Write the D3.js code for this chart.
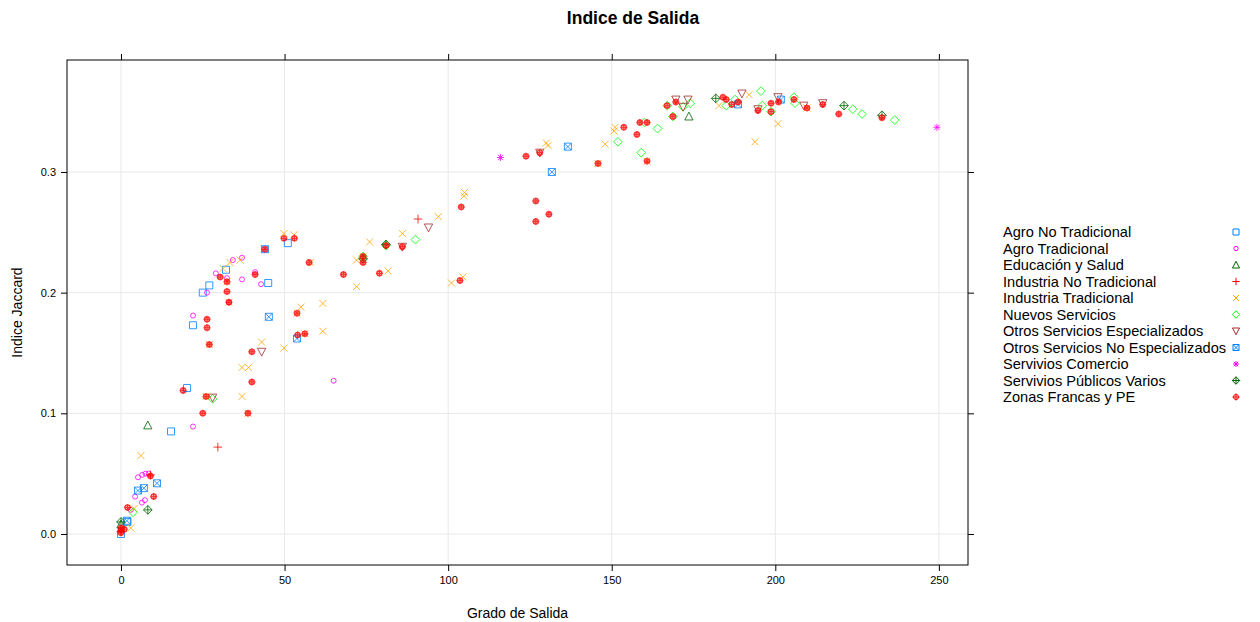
<!DOCTYPE html>
<html>
<head>
<meta charset="utf-8">
<script src="https://cdn.jsdelivr.net/npm/d3@7"></script>
<style>
  body { margin: 0; background: #fff; font-family: "Liberation Sans", Arial, sans-serif; }
  .axis text { font-size: 11px; fill: #000; }
  .axis line { stroke: #000; }
</style>
</head>
<body>
<svg id="chart" width="1260" height="622"></svg>
<script>
// series (grado de salida, indice jaccard)
const agroNoTradicional = [[0,0],[2,0.01],[15.3,0.085],[20.2,0.121],[22,0.173],[25,0.2],[27,0.206],[32.1,0.219],[45,0.208],[51,0.241]];
const agroTradicional = [[5.2,0.047],[6.5,0.049],[7.5,0.05],[8.5,0.05],[4.3,0.031],[6.4,0.026],[7.3,0.028],[3,0.02],[22,0.089],[22,0.181],[26.3,0.2],[29,0.216],[32.4,0.212],[34.2,0.227],[37,0.229],[37,0.211],[41,0.217],[42.8,0.207],[33,0.192],[65,0.127]];
const educacionSalud = [[0,0.008],[8.2,0.09],[173.6,0.346]];
const industriaNoTradicional = [[0,0.002],[9,0.049],[29.6,0.072],[90.8,0.261]];
const industriaTradicional = [[3,0.005],[4,0.021],[6.1,0.065],[31.2,0.22],[33.3,0.225],[36.4,0.227],[32.4,0.209],[33,0.192],[49.8,0.249],[52.9,0.248],[55,0.188],[53.8,0.183],[56.2,0.166],[27,0.157],[43,0.159],[49.8,0.154],[37,0.138],[39,0.138],[37,0.114],[38.8,0.1],[26,0.114],[58,0.225],[61.7,0.191],[61.7,0.168],[72,0.227],[72,0.205],[74,0.23],[76,0.242],[81.6,0.218],[86,0.249],[97,0.263],[101,0.208],[104.5,0.213],[104.8,0.28],[105,0.283],[130,0.324],[130.5,0.322],[145.8,0.307],[148,0.323],[150.7,0.334],[151,0.337],[160.8,0.309],[182.8,0.355],[192,0.364],[193.8,0.325],[200.8,0.34],[209.7,0.353]];
const nuevosServicios = [[3.7,0.018],[28,0.112],[74,0.23],[81,0.239],[90,0.244],[151.9,0.325],[159,0.316],[164,0.336],[160,0.341],[167,0.355],[168.7,0.346],[174,0.357],[171.8,0.354],[185,0.355],[187.7,0.36],[195.6,0.367],[196,0.355],[198.7,0.35],[205.7,0.362],[206,0.357],[223.7,0.352],[226.5,0.348],[236.5,0.343]];
const otrosEspecializados = [[28,0.113],[43,0.151],[86,0.238],[94,0.254],[128,0.316],[169.6,0.36],[173.3,0.36],[171.8,0.354],[189.8,0.365],[194.7,0.352],[200.8,0.362],[208.7,0.355],[214.5,0.357]];
const otrosNoEspecializados = [[1.8,0.011],[5.2,0.036],[7,0.038],[11,0.042],[44,0.236],[45.2,0.18],[53.8,0.162],[131.7,0.3],[136.6,0.321],[188.6,0.356],[201.7,0.36]];
const serviciosComercio = [[116,0.312],[249.4,0.337]];
const serviciosPublicos = [[0,0.01],[8.2,0.02],[74,0.228],[81,0.24],[181.8,0.361],[221,0.355],[232.6,0.347]];
const zonasFrancas = [[0,0.001],[0,0.003],[0,0.005],[1,0.004],[2,0.022],[9,0.048],[10,0.031],[19,0.119],[25,0.1],[26,0.114],[26.3,0.178],[26.3,0.171],[27,0.157],[30.3,0.213],[32.4,0.209],[32.4,0.201],[33,0.192],[40,0.151],[40,0.126],[38.8,0.1],[41,0.215],[44,0.236],[49.8,0.245],[53,0.245],[53.8,0.183],[54,0.165],[56.2,0.166],[57.5,0.225],[68,0.215],[74,0.23],[74,0.225],[79,0.216],[81,0.239],[86,0.238],[103.6,0.21],[104,0.271],[123.8,0.313],[128,0.316],[126.8,0.276],[130.8,0.265],[126.8,0.259],[145.8,0.307],[153.7,0.337],[157.7,0.331],[158.6,0.341],[160.8,0.341],[160.8,0.309],[166.9,0.355],[168.7,0.346],[169.6,0.358],[184,0.362],[185,0.36],[186.7,0.356],[188.6,0.358],[194.7,0.351],[198.7,0.357],[198.7,0.35],[201,0.358],[205.7,0.36],[209.7,0.353],[214.5,0.356],[219.4,0.348],[232.6,0.345]];

const groupNames = ["Agro No Tradicional", "Agro Tradicional", "Educación y Salud", "Industria No Tradicional",
  "Industria Tradicional", "Nuevos Servicios", "Otros Servicios Especializados", "Otros Servicios No Especializados",
  "Servivios Comercio", "Servivios Públicos Varios", "Zonas Francas y PE"];
const groupData = [agroNoTradicional, agroTradicional, educacionSalud, industriaNoTradicional, industriaTradicional,
  nuevosServicios, otrosEspecializados, otrosNoEspecializados, serviciosComercio, serviciosPublicos, zonasFrancas];
const xTicks = [0, 50, 100, 150, 200, 250];
const yTicks = [0, 0.1, 0.2, 0.3];

// lattice superpose colours, recycled
const colors = ["#0080ff", "#ff00ff", "#006400", "#ff0000", "#ffa500", "#00ff00", "#a52a2a",
  "#0080ff", "#ff00ff", "#006400", "#ff0000"];

const svg = d3.select("#chart");
const pLeft = 67, pRight = 968, pTop = 60, pBottom = 565;

const x = d3.scaleLinear().domain([-16.5, 258.9]).range([pLeft, pRight]);
const y = d3.scaleLinear().domain([-0.0257, 0.3928]).range([pBottom, pTop]);

// R-style plotting symbols (pch 0..10)
function symbol(pch, s) {
  const h = s / 2, r = s * 0.42, d = s * 0.62;
  const sq = `M${-h},${-h}H${h}V${h}H${-h}Z`;
  const plus = `M${-h},0H${h}M0,${-h}V${h}`;
  const cross = `M${-h},${-h}L${h},${h}M${-h},${h}L${h},${-h}`;
  const circ = rr => `M${-rr},0A${rr},${rr} 0 1,0 ${rr},0A${rr},${rr} 0 1,0 ${-rr},0`;
  const diam = `M0,${-d}L${d},0L0,${d}L${-d},0Z`;
  switch (pch) {
    case 0: return sq;
    case 1: return circ(r * 0.85);
    case 2: return `M0,${-d}L${d * 0.95},${h}L${-d * 0.95},${h}Z`;
    case 3: return `M${-d},0H${d}M0,${-d}V${d}`;
    case 4: return cross;
    case 5: return diam;
    case 6: return `M0,${d}L${d * 0.95},${-h}L${-d * 0.95},${-h}Z`;
    case 7: return sq + cross;
    case 8: return plus + `M${-h * 0.75},${-h * 0.75}L${h * 0.75},${h * 0.75}M${-h * 0.75},${h * 0.75}L${h * 0.75},${-h * 0.75}`;
    case 9: return diam + `M${-d},0H${d}M0,${-d}V${d}`;
    case 10: return circ(r) + `M${-r - 1},0H${r + 1}M0,${-r - 1}V${r + 1}`;
  }
}

// grid
const grid = svg.append("g");
grid.selectAll(".gx").data(xTicks).enter().append("line")
  .attr("x1", d => x(d)).attr("x2", d => x(d)).attr("y1", pTop).attr("y2", pBottom)
  .attr("stroke", "#e8e8e8");
grid.selectAll(".gy").data(yTicks).enter().append("line")
  .attr("x1", pLeft).attr("x2", pRight).attr("y1", d => y(d)).attr("y2", d => y(d))
  .attr("stroke", "#e8e8e8");

// axes (ticks on all four sides, labels bottom and left)
svg.append("g").attr("class", "axis").attr("transform", `translate(0,${pBottom})`)
  .call(d3.axisBottom(x).tickValues(xTicks).tickSize(6).tickPadding(5).tickFormat(d3.format("d")))
  .call(g => g.select(".domain").remove());
svg.append("g").attr("class", "axis").attr("transform", `translate(0,${pTop})`)
  .call(d3.axisTop(x).tickValues(xTicks).tickSize(6).tickFormat(""))
  .call(g => g.select(".domain").remove());
svg.append("g").attr("class", "axis").attr("transform", `translate(${pLeft},0)`)
  .call(d3.axisLeft(y).tickValues(yTicks).tickSize(6).tickPadding(5).tickFormat(d3.format(".1f")))
  .call(g => g.select(".domain").remove());
svg.append("g").attr("class", "axis").attr("transform", `translate(${pRight},0)`)
  .call(d3.axisRight(y).tickValues(yTicks).tickSize(6).tickFormat(""))
  .call(g => g.select(".domain").remove());

svg.append("rect")
  .attr("x", pLeft).attr("y", pTop).attr("width", pRight - pLeft).attr("height", pBottom - pTop)
  .attr("fill", "none").attr("stroke", "#000");

// points
groupData.forEach((pts, i) => {
  svg.append("g").selectAll("path")
    .data(pts)
    .enter()
    .append("path")
    .attr("transform", d => `translate(${x(d[0])},${y(d[1])})`)
    .attr("d", symbol(i, i === 10 ? 6 : 7))
    .attr("fill", "none")
    .attr("stroke", colors[i])
    .attr("stroke-width", i === 10 ? 1.4 : 1)
    .attr("stroke-opacity", 0.8);
});

// titles
svg.append("text").attr("x", 633).attr("y", 24)
  .attr("text-anchor", "middle").style("font-size", "17.5px").style("font-weight", "bold")
  .text("Indice de Salida");
svg.append("text").attr("x", (pLeft + pRight) / 2).attr("y", 618)
  .attr("text-anchor", "middle").style("font-size", "14px")
  .text("Grado de Salida");
svg.append("text").attr("transform", `translate(22,${(pTop + pBottom) / 2}) rotate(-90)`)
  .attr("text-anchor", "middle").style("font-size", "14px")
  .text("Indice Jaccard");

// legend
const legend = svg.append("g");
groupNames.forEach((name, i) => {
  const ly = 232 + i * 16.5;
  legend.append("text").attr("x", 1003).attr("y", ly + 5).style("font-size", "14.6px").text(name);
  legend.append("path").attr("transform", `translate(1236,${ly})`)
    .attr("d", symbol(i, 6)).attr("fill", "none").attr("stroke", colors[i]).attr("stroke-width", 1);
});
</script>
</body>
</html>
